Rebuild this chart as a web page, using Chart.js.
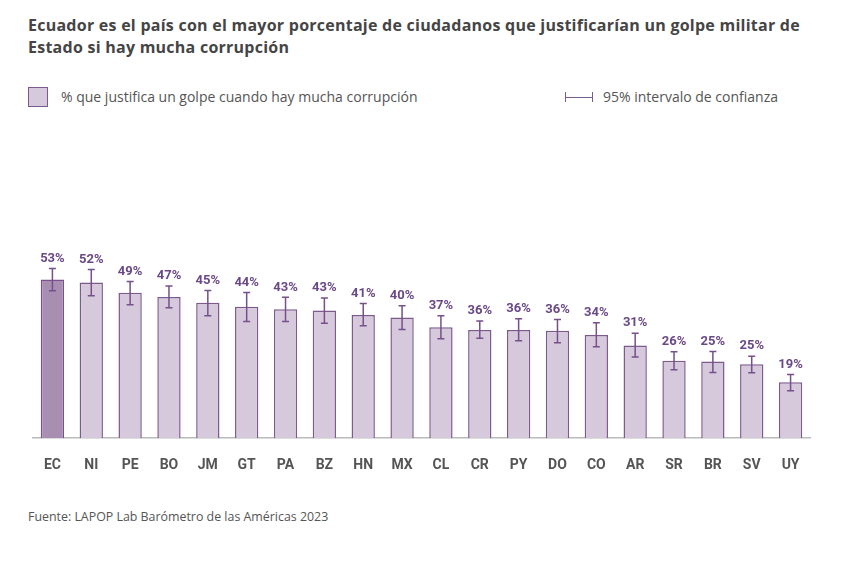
<!DOCTYPE html>
<html>
<head>
<meta charset="utf-8">
<script src="https://cdn.jsdelivr.net/npm/chart.js@4"></script>
<style>
  html, body { margin: 0; padding: 0; background: #fff; }
  body { width: 854px; height: 572px; position: relative; overflow: hidden; font-family: "Open Sans", Lato, sans-serif; }
  #title { position: absolute; left: 28px; top: 14px; width: 826px; font-size: 16px; letter-spacing: 0.25px; font-weight: 700; color: #454545; line-height: 22px; white-space: nowrap; }
  .leg { position: absolute; top: 87px; font-size: 14px; color: #555; line-height: 20px; display: flex; align-items: center; }
  #leg1 { left: 28px; }
  #leg2 { left: 565px; }
  .sw { width: 18px; height: 18px; background: #d6c9dc; border: 1px solid #7d5a8e; margin-right: 13px; }
  .ci { width: 26px; height: 10px; border-left: 1.5px solid #7d5a8e; border-right: 1.5px solid #7d5a8e; position: relative; margin-right: 10px; }
  .ci:after { content: ""; position: absolute; left: 0; right: 0; top: 4.5px; height: 1.5px; background: #7d5a8e; }
  #foot { position: absolute; left: 28px; top: 508px; font-size: 12.4px; color: #555; }
  #wrap { position: absolute; left: 0; top: 120px; width: 854px; height: 378px; }
</style>
</head>
<body>
<div id="title">Ecuador es el país con el mayor porcentaje de ciudadanos que justificarían un golpe militar de<br>Estado si hay mucha corrupción</div>
<div class="leg" id="leg1"><span class="sw"></span>% que justifica un golpe cuando hay mucha corrupción</div>
<div class="leg" id="leg2"><span class="ci"></span>95% intervalo de confianza</div>
<div id="wrap"><canvas id="c"></canvas></div>
<div id="foot">Fuente: LAPOP Lab Barómetro de las Américas 2023</div>
<script>
const countries = ["EC","NI","PE","BO","JM","GT","PA","BZ","HN","MX","CL","CR","PY","DO","CO","AR","SR","BR","SV","UY"];
const values    = [53.0, 52.0, 48.6, 47.2, 45.3, 43.9, 43.1, 42.7, 41.2, 40.3, 37.1, 36.2, 36.2, 35.9, 34.5, 31.0, 25.9, 25.6, 24.7, 18.7];
const ciLow     = [49.3, 47.6, 44.6, 43.6, 40.9, 39.0, 39.0, 38.4, 37.6, 36.3, 33.2, 33.4, 32.6, 31.9, 30.6, 27.1, 22.9, 22.0, 21.9, 15.9];
const ciHigh    = [56.7, 56.4, 52.4, 50.9, 49.4, 48.7, 47.1, 46.9, 45.0, 44.3, 40.9, 39.2, 39.9, 39.7, 38.6, 35.1, 28.9, 29.0, 27.4, 21.3];
const labels    = ["53%","52%","49%","47%","45%","44%","43%","43%","41%","40%","37%","36%","36%","36%","34%","31%","26%","25%","25%","19%"];

const fills = countries.map((c, i) => i === 0 ? "#a88fb2" : "#d6c9dc");
const borders = countries.map((c, i) => i === 0 ? "#7a4f8c" : "#7d5a8e");

const errPlugin = {
  id: "err",
  afterDatasetsDraw(chart) {
    const ctx = chart.ctx;
    const xs = chart.scales.x, ys = chart.scales.y;
    ctx.save();
    ctx.strokeStyle = "#75508a";
    ctx.lineWidth = 1.5;
    countries.forEach((c, i) => {
      const x = xs.getPixelForValue(i);
      const yt = ys.getPixelForValue(ciHigh[i]);
      const yb = ys.getPixelForValue(ciLow[i]);
      ctx.beginPath();
      ctx.moveTo(x, yt); ctx.lineTo(x, yb);
      ctx.moveTo(x - 3.5, yt); ctx.lineTo(x + 3.5, yt);
      ctx.moveTo(x - 3.5, yb); ctx.lineTo(x + 3.5, yb);
      ctx.stroke();
      ctx.fillStyle = "#6b4886";
      ctx.font = "bold 13px Roboto";
      ctx.textAlign = "center";
      ctx.textBaseline = "middle";
      ctx.fillText(labels[i], x, yt - 10);
    });
    ctx.restore();
  }
};

new Chart(document.getElementById("c"), {
  type: "bar",
  data: {
    labels: countries,
    datasets: [{
      data: values,
      backgroundColor: fills,
      borderColor: borders,
      borderWidth: 1.5,
      borderSkipped: "bottom",
      categoryPercentage: 1,
      barPercentage: 0.6
    }]
  },
  options: {
    responsive: true,
    maintainAspectRatio: false,
    animation: false,
    layout: { padding: { left: 33, right: 44, top: 19, bottom: 5 } },
    plugins: { legend: { display: false }, tooltip: { enabled: false } },
    scales: {
      x: {
        grid: { display: false, drawTicks: false },
        border: { display: true, color: "#bbbbbb", width: 1.5 },
        ticks: { color: "#555", font: { family: "Roboto", size: 14, weight: "bold" }, padding: 19, maxRotation: 0, autoSkip: false }
      },
      y: { display: false, min: 0, max: 100 }
    }
  },
  plugins: [errPlugin]
});
</script>
</body>
</html>
